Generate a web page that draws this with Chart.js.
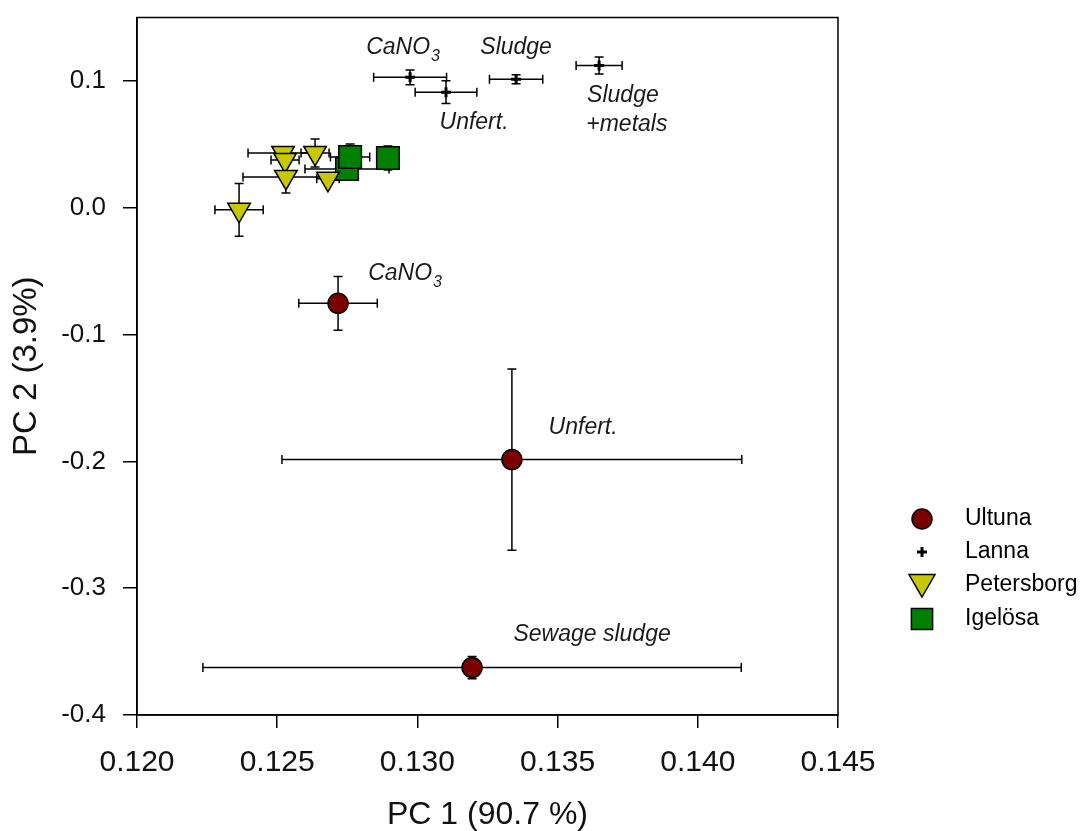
<!DOCTYPE html>
<html>
<head>
<meta charset="utf-8">
<script src="https://cdn.jsdelivr.net/npm/chart.js@4.4.0/dist/chart.umd.min.js"></script>
<style>
  html, body { margin: 0; padding: 0; background: #fff; }
  canvas { display: block; }
</style>
</head>
<body>
<canvas id="pcaChart" width="1089" height="831"></canvas>
<script>
// PCA scores
const seriesNames = ['Ultuna', 'Lanna', 'Petersborg', 'Igelösa'];

const ultunaX = [0.12717, 0.13337, 0.13195];
const ultunaY = [-0.0754, -0.1986, -0.3626];
const ultunaXErr = [0.0014, 0.0082, 0.0096];
const ultunaYErr = [0.0212, 0.0714, 0.0088];

const lannaX = [0.12974, 0.13102, 0.13352, 0.13648];
const lannaY = [0.1028, 0.0911, 0.1013, 0.1122];
const lannaXErr = [0.0013, 0.0011, 0.00095, 0.00082];
const lannaYErr = [0.0058, 0.009, 0.0035, 0.0067];

const petersborgX = [0.12521, 0.12528, 0.12635, 0.12531, 0.12681, 0.12364];
const petersborgY = [0.0432, 0.0377, 0.0432, 0.0243, 0.0228, -0.0016];
const petersborgXErr = [0.00125, 0.0005, 0.0005, 0.00153, 0.0004, 0.00086];
const petersborgYErr = [0.004, 0.004, 0.011, 0.0126, 0.004, 0.0208];

const igelosaX = [0.12749, 0.12760, 0.12895];
const igelosaY = [0.0306, 0.0400, 0.0392];
const igelosaXErr = [0.0015, 0.0007, 0.0003];
const igelosaYErr = [0.004, 0.0102, 0.0094];

const xTicks = [0.120, 0.125, 0.130, 0.135, 0.140, 0.145];
const yTicks = [-0.4, -0.3, -0.2, -0.1, 0.0, 0.1];

// treatment labels (anchored in data units)
const labelTexts = ['CaNO', 'Sludge', 'Unfert.', 'Sludge', '+metals', 'CaNO', 'Unfert.', 'Sewage sludge'];
const labelSubs = ['3', '', '', '', '', '3', '', ''];
const labelX = [0.12949, 0.13352, 0.13202, 0.13733, 0.13747, 0.12956, 0.13591, 0.13623];
const labelY = [0.1264, 0.1264, 0.0675, 0.0887, 0.0659, -0.0518, -0.1735, -0.3367];

const FONT = '"Liberation Sans", Arial, Helvetica, sans-serif';

function pts(xs, ys) {
    return xs.map((x, i) => ({ x: x, y: ys[i] }));
}

const datasets = [
    {
        label: seriesNames[0], data: pts(ultunaX, ultunaY), xErr: ultunaXErr, yErr: ultunaYErr,
        pointStyle: 'circle', pointRadius: 10, backgroundColor: '#7a0000', borderColor: '#000', borderWidth: 1.5
    },
    {
        label: seriesNames[1], data: pts(lannaX, lannaY), xErr: lannaXErr, yErr: lannaYErr,
        pointStyle: 'cross', pointRadius: 5, backgroundColor: '#000', borderColor: '#000', borderWidth: 3
    },
    {
        label: seriesNames[2], data: pts(petersborgX, petersborgY), xErr: petersborgXErr, yErr: petersborgYErr,
        pointStyle: 'triangle', rotation: 180, pointRadius: 13, backgroundColor: '#c8c800', borderColor: '#000', borderWidth: 1.5
    },
    {
        label: seriesNames[3], data: pts(igelosaX, igelosaY), xErr: igelosaXErr, yErr: igelosaYErr,
        pointStyle: 'rect', pointRadius: 16, backgroundColor: '#008000', borderColor: '#000', borderWidth: 1.5
    }
];

// error bars under the markers
const errorBars = {
    id: 'errorBars',
    beforeDatasetsDraw(chart) {
        const { ctx, scales: { x, y } } = chart;
        const cap = 4.5;
        ctx.save();
        ctx.strokeStyle = '#000';
        ctx.lineWidth = 1.5;
        chart.data.datasets.forEach(ds => {
            ds.data.forEach((p, i) => {
                const px = x.getPixelForValue(p.x);
                const py = y.getPixelForValue(p.y);
                const xl = x.getPixelForValue(p.x - ds.xErr[i]);
                const xr = x.getPixelForValue(p.x + ds.xErr[i]);
                const yt = y.getPixelForValue(p.y + ds.yErr[i]);
                const yb = y.getPixelForValue(p.y - ds.yErr[i]);
                ctx.beginPath();
                ctx.moveTo(xl, py); ctx.lineTo(xr, py);
                ctx.moveTo(xl, py - cap); ctx.lineTo(xl, py + cap);
                ctx.moveTo(xr, py - cap); ctx.lineTo(xr, py + cap);
                ctx.moveTo(px, yt); ctx.lineTo(px, yb);
                ctx.moveTo(px - cap, yt); ctx.lineTo(px + cap, yt);
                ctx.moveTo(px - cap, yb); ctx.lineTo(px + cap, yb);
                ctx.stroke();
            });
        });
        ctx.restore();
    }
};

// frame, treatment labels and the legend
const decorations = {
    id: 'decorations',
    afterDraw(chart) {
        const { ctx, chartArea: a, scales: { x, y } } = chart;
        ctx.save();
        ctx.strokeStyle = '#000';
        ctx.lineWidth = 1.5;
        ctx.strokeRect(a.left, a.top, a.right - a.left, a.bottom - a.top);

        // italic labels
        ctx.fillStyle = '#1a1a1a';
        ctx.textBaseline = 'middle';
        ctx.textAlign = 'left';
        const mainFont = 'italic 23px ' + FONT;
        const subFont = 'italic 16px ' + FONT;
        labelTexts.forEach((t, i) => {
            ctx.font = mainFont;
            const w1 = ctx.measureText(t).width;
            ctx.font = subFont;
            const w2 = labelSubs[i] ? ctx.measureText(labelSubs[i]).width + 1 : 0;
            const cx = x.getPixelForValue(labelX[i]);
            const cy = y.getPixelForValue(labelY[i]);
            const left = cx - (w1 + w2) / 2;
            ctx.font = mainFont;
            ctx.fillText(t, left, cy);
            if (labelSubs[i]) {
                ctx.font = subFont;
                ctx.fillText(labelSubs[i], left + w1 + 1, cy + 9);
            }
        });

        // legend
        const rowY = [519, 552, 585, 619];
        const markX = 922, textX = 965;
        ctx.font = '23px ' + FONT;
        ctx.fillStyle = '#000';
        chart.data.datasets.forEach((ds, i) => {
            ctx.save();
            ctx.fillStyle = ds.backgroundColor;
            ctx.strokeStyle = ds.borderColor;
            ctx.lineWidth = ds.borderWidth;
            const big = ds.pointStyle === 'triangle' ? 15 : (ds.pointStyle === 'rect' ? 15 : ds.pointRadius);
            Chart.helpers.drawPoint(ctx, {
                pointStyle: ds.pointStyle,
                radius: big,
                rotation: ds.rotation || 0,
                borderWidth: ds.borderWidth
            }, markX, rowY[i] + (ds.pointStyle === 'triangle' ? -3 : 0));
            ctx.restore();
            ctx.fillText(ds.label, textX, rowY[i]);
        });
        ctx.restore();
    }
};

const ctx = document.getElementById('pcaChart').getContext('2d');
new Chart(ctx, {
    type: 'scatter',
    data: { datasets: datasets },
    options: {
        responsive: false,
        animation: false,
        devicePixelRatio: 1,
        layout: { padding: { top: 15, right: 251, left: 0, bottom: 0 } },
        plugins: {
            legend: { display: false },
            tooltip: { enabled: false }
        },
        scales: {
            x: {
                type: 'linear',
                min: 0.12,
                max: 0.145,
                afterFit: s => { s.height = 116; },
                afterBuildTicks: s => { s.ticks = xTicks.map(v => ({ value: v })); },
                grid: { drawOnChartArea: false, drawTicks: true, tickLength: 13, color: '#000', lineWidth: 1.5 },
                border: { color: '#000', width: 1.5 },
                ticks: {
                    color: '#111',
                    padding: 17,
                    maxRotation: 0,
                    font: { family: FONT, size: 30 },
                    callback: v => Number(v).toFixed(3)
                },
                title: {
                    display: true,
                    text: 'PC 1 (90.7 %)',
                    color: '#111',
                    font: { family: FONT, size: 32, lineHeight: 1.0 },
                    padding: { top: 0, bottom: 0 }
                }
            },
            y: {
                type: 'linear',
                min: -0.4,
                max: 0.15,
                afterFit: s => { s.width = 137; s.paddingTop = 0; s.paddingBottom = 0; },
                afterBuildTicks: s => { s.ticks = yTicks.map(v => ({ value: v })); },
                grid: { drawOnChartArea: false, drawTicks: true, tickLength: 14, color: '#000', lineWidth: 1.5 },
                border: { color: '#000', width: 1.5 },
                ticks: {
                    color: '#111',
                    padding: 17,
                    font: { family: FONT, size: 26 },
                    callback: v => Number(v).toFixed(1)
                },
                title: {
                    display: true,
                    text: 'PC 2 (3.9%)',
                    color: '#111',
                    font: { family: FONT, size: 33, lineHeight: 1.2 },
                    padding: { top: 7, bottom: 0 }
                }
            }
        }
    },
    plugins: [errorBars, decorations]
});
</script>
</body>
</html>
